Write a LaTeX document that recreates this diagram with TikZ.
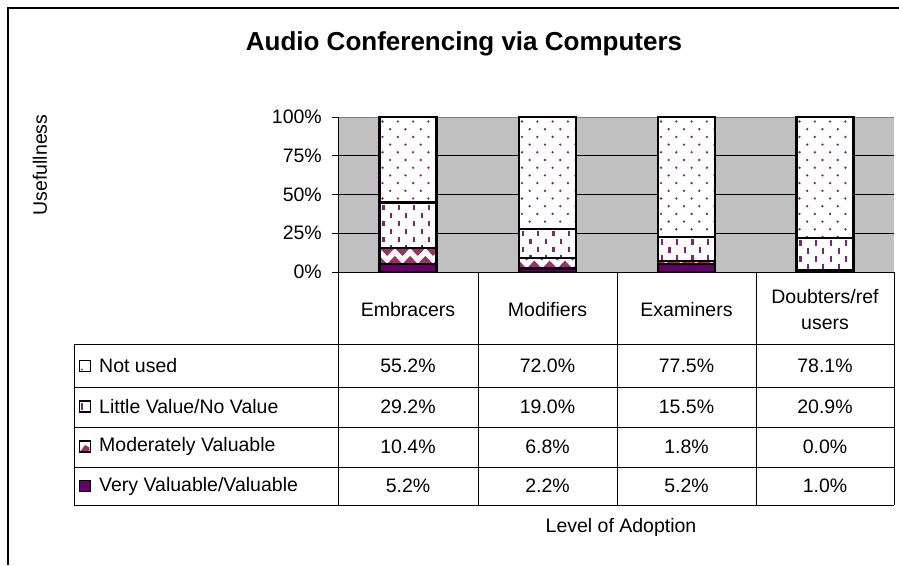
\documentclass[tikz,border=0pt]{standalone}
\usepackage{fontspec}
\setmainfont{Liberation Sans}
\definecolor{vvc}{RGB}{102,0,102}
\definecolor{modc}{RGB}{153,51,102}
\definecolor{dotc}{RGB}{128,32,128}
\definecolor{plotgray}{RGB}{192,192,192}
\tikzset{
  segline/.style={draw=black,line width=2.2pt},
  gridl/.style={draw=black,line width=1pt},
  tabl/.style={draw=black,line width=1pt},
  txt/.style={inner sep=0pt,font=\fontsize{19.5}{22}\selectfont},
  keybox/.style={draw=black,line width=1.3pt},
}
\newcommand{\mybar}[6]{% #1 name, #2 center x, #3 vv, #4 mod, #5 lit, #6 not
  \pgfmathsetmacro\xa{#2-28.5}
  \pgfmathsetmacro\xb{#2+28.5}
  \pgfmathsetmacro\ya{272}
  \pgfmathsetmacro\yb{272-1.55*#3}
  \pgfmathsetmacro\yc{\yb-1.55*#4}
  \pgfmathsetmacro\yd{\yc-1.55*#5}
  \pgfmathsetmacro\ye{117}
  % not used: dots
  \fill[white] (\xa,\yd) rectangle (\xb,\ye);
  \begin{scope}
    \clip (\xa,\yd) rectangle (\xb,\ye);
    \foreach \j in {0,...,16}{
      \foreach \i in {0,...,4}{
        \fill[dotc] ({\xa+3+mod(\j,2)*7.65+\i*15.3},{\ye+4.5+\j*7.7}) circle[radius=1.3pt];
      }
    }
  \end{scope}
  % little value: dashes
  \fill[white] (\xa,\yc) rectangle (\xb,\yd);
  \begin{scope}
    \clip (\xa,\yc) rectangle (\xb,\yd);
    \foreach \j in {0,...,8}{
      \foreach \i in {0,...,4}{
        \fill[dotc] ({\xa+2.8+mod(\j,2)*7.65+\i*15.3},{\yd+2+\j*8}) rectangle ++(2.2,5.5);
      }
    }
  \end{scope}
  % moderately: triangles
  \fill[white] (\xa,\yb) rectangle (\xb,\yc);
  \begin{scope}
    \clip (\xa,\yb) rectangle (\xb,\yc);
    \foreach \i in {0,...,4}{
      \fill[modc] ({\xa+\i*15.3-7.65},\yb) -- ({\xa+\i*15.3},\yb-8) -- ({\xa+\i*15.3+7.65},\yb) -- cycle;
      \fill[modc] ({\xa+\i*15.3},\yb-16) -- ({\xa+\i*15.3+7.65},\yb-8) -- ({\xa+\i*15.3+15.3},\yb-16) -- cycle;
    }
  \end{scope}
  % very valuable
  \fill[vvc] (\xa,\ya) rectangle (\xb,\yb);
  \draw[segline] (\xa,\ya) rectangle (\xb,\yb);
  \draw[segline] (\xa,\yb) rectangle (\xb,\yc);
  \draw[segline] (\xa,\yc) rectangle (\xb,\yd);
  \draw[segline] (\xa,\yd) rectangle (\xb,\ye);
  \coordinate (#1) at (#2,\ye);
}
\begin{document}
\begin{tikzpicture}[x=1pt,y=-1pt]
\useasboundingbox (0,0) rectangle (899,565);
\fill[white] (0,0) rectangle (899,565);
% outer frame
\draw[line width=2pt] (8,565) -- (8,8) -- (899,8);
% title
\node[inner sep=0pt,font=\bfseries\fontsize{26}{30}\selectfont] (title) at (464,44) {Audio Conferencing via Computers};
% y axis label
\node[txt,rotate=90] (ylab) at (40,165) {Usefullness};
% plot area
\fill[plotgray] (338,117) rectangle (894,272);
\foreach \p/\nm in {25/g25,50/g50,75/g75}{
  \draw[gridl] (338,{272-1.55*\p}) -- (894,{272-1.55*\p});
}
\draw[line width=0.6pt,draw=gray] (338,117) -- (894,117);
% bars
\mybar{b1}{408}{5.2}{10.4}{29.2}{55.2}
\mybar{b2}{547.5}{2.2}{6.8}{19.0}{72.0}
\mybar{b3}{686.5}{5.2}{1.8}{15.5}{77.5}
\mybar{b4}{825}{1.0}{0.0}{20.9}{78.1}
% axes
\draw[tabl] (338,117) -- (338,505);
\foreach \p/\lab/\nm in {0/0\%/t0,25/25\%/t25,50/50\%/t50,75/75\%/t75,100/100\%/t100}{
  \draw[tabl] (332,{272-1.55*\p}) -- (338,{272-1.55*\p});
  \node[txt,anchor=east] (\nm) at (322,{272-1.55*\p}) {\lab};
}
% table lines
\draw[tabl] (338,272) -- (894,272);
\foreach \x in {478,617,756,894}{
  \draw[tabl] (\x,272) -- (\x,505);
}
\foreach \y in {344,387,427,467,505}{
  \draw[tabl] (74,\y) -- (894,\y);
}
\draw[tabl] (74,344) -- (74,505);
% headers
\node[txt] (h1) at (408,310) {Embracers};
\node[txt] (h2) at (547.5,310) {Modifiers};
\node[txt] (h3) at (686.5,310) {Examiners};
\node[txt,align=center,font=\fontsize{19.5}{26}\selectfont] (h4) at (825,310) {Doubters/ref\\users};
% row keys and labels
\node[keybox,fill=white,minimum size=11pt,inner sep=0pt] (k1) at (85,366) {};
\fill[dotc] (81.8,369.5) circle[radius=1pt];
\node[txt,anchor=west] (r1) at (99,366) {Not used};
\node[keybox,fill=white,minimum size=11pt,inner sep=0pt] (k2) at (85,406.5) {};
\fill[dotc] (80.9,402.5) rectangle (82.6,409.5);
\node[txt,anchor=west] (r2) at (99,406.5) {Little Value/No Value};
\node[keybox,fill=white,minimum size=11pt,inner sep=0pt] (k3) at (85,446.5) {};
\fill[modc] (80.6,451) -- (85,445) -- (89.4,447.5) -- (89.4,451) -- cycle;
\node[txt,anchor=west] (r3) at (99,446.5) {Moderately Valuable};
\node[keybox,fill=vvc,minimum size=11pt,inner sep=0pt] (k4) at (85,486) {};
\node[txt,anchor=west] (r4) at (99,486) {Very Valuable/Valuable};
% values
\foreach \x/\a/\b/\c/\d/\n in {408/55.2/29.2/10.4/5.2/c1,547.5/72.0/19.0/6.8/2.2/c2,686.5/77.5/15.5/1.8/5.2/c3,825/78.1/20.9/0.0/1.0/c4}{
  \node[txt] (\n a) at (\x,366) {\a\%};
  \node[txt] (\n b) at (\x,406.5) {\b\%};
  \node[txt] (\n c) at (\x,446.5) {\c\%};
  \node[txt] (\n d) at (\x,486) {\d\%};
}
% x axis title
\node[txt] (xlab) at (621,527) {Level of Adoption};
\end{tikzpicture}
\end{document}
